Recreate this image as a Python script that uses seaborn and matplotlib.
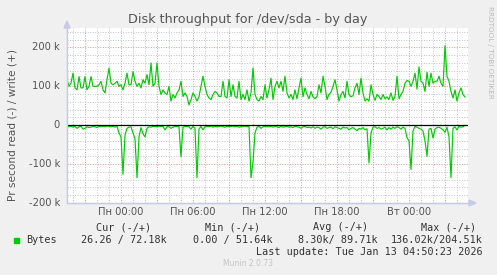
import matplotlib
matplotlib.use("Agg")
import matplotlib.pyplot as plt
import matplotlib.dates as mdates
import matplotlib.ticker as mticker
import seaborn as sns
import pandas as pd
import numpy as np

# ---- data (k bytes/s, 10-minute samples starting Sun 19:30) ----
start_time = "2026-01-11 19:30"
sample_step = "10min"

write_k = [117, 100, 108, 134, 96, 91, 125, 96, 96, 125, 91, 100, 125, 100, 100, 100, 104, 113, 91, 83,
           117, 147, 108, 104, 108, 113, 100, 104, 91, 108, 134, 104, 104, 138, 113, 100, 108, 96, 117, 108,
           130, 104, 160, 100, 108, 160, 100, 79, 91, 83, 79,
           100, 62, 79, 70, 83, 91, 113, 74, 83, 74, 52, 66, 83, 74, 62, 74, 100, 126, 100, 79,
           70, 66, 79, 87, 83, 74, 74, 113, 74, 70, 117, 74, 104, 74, 70, 113, 66, 79, 66, 91,
           62, 83, 147, 79, 66, 62, 74, 66, 104, 70,
           91, 121, 66, 100, 113, 96, 113, 87, 126, 83, 70, 79, 66, 91, 68, 96, 121, 73, 96, 79,
           68, 87, 73, 68, 74, 104, 83, 126, 100, 66, 79, 85, 100, 117, 91, 62, 79, 87, 70, 113,
           79, 73, 76, 96, 108, 79, 121, 83, 62, 68, 62,
           104, 79, 64, 79, 74, 66, 79, 68, 73, 66, 83, 64, 74, 126, 68, 79, 87, 108, 115, 113,
           100, 113, 134, 93, 150, 113, 108, 87, 136, 100, 134, 108, 113, 113, 126, 108, 100, 204.5, 126, 113,
           87, 70, 91, 62, 83, 96, 79, 72.2]

read_k = [3, 4, 3, 5, 3, 8, 4, 3, 10, 8, 4, 6, 5, 3, 4, 6, 3, 4, 3, 4,
          2, 3, 4, 3, 5, 3, 20, 30, 126, 25, 8, 5, 4, 20, 35, 135, 30, 6, 22, 30,
          8, 4, 5, 3, 3, 4, 2, 3, 3, 12, 4,
          4, 8, 5, 3, 3, 4, 81, 5, 3, 3, 4, 10, 3, 8, 135, 10, 3, 12, 4,
          3, 4, 2, 5, 3, 4, 3, 2, 4, 5, 3, 4, 3, 2, 4, 3, 5, 4, 3, 2, 4, 3,
          135, 95, 20, 5, 3, 8, 4, 3, 4,
          4, 3, 5, 3, 4, 6, 3, 5, 4, 3, 5, 4, 6, 3, 4, 5, 8, 4, 3, 6,
          5, 7, 4, 8, 5, 6, 10, 5, 4, 8, 6, 5, 9, 4, 6, 8, 10, 5, 7, 6,
          12, 8, 6, 10, 14, 8, 10, 6, 12, 9, 97,
          20, 5, 4, 8, 6, 10, 8, 5, 12, 6, 10, 5, 8, 4, 6, 10, 5, 8, 32, 40,
          114, 15, 3, 5, 8, 10, 15, 40, 80, 10, 8, 33, 10, 6, 5, 8, 12, 18, 5, 30,
          135, 8, 4, 12, 3, 5, 4, 0.026]

y_tick_values = [-200000, -100000, 0, 100000, 200000]
y_tick_labels = ["-200 k", "-100 k", "0", "100 k", "200 k"]
x_tick_times = ["2026-01-12 00:00", "2026-01-12 06:00", "2026-01-12 12:00",
                "2026-01-12 18:00", "2026-01-13 00:00"]
x_tick_labels = ["Пн 00:00", "Пн 06:00", "Пн 12:00", "Пн 18:00", "Вт 00:00"]

title = "Disk throughput for /dev/sda - by day"
ylabel = "Pr second read (-) / write (+)"
legend_header = ["Cur (-/+)", "Min (-/+)", "Avg (-/+)", "Max (-/+)"]
legend_values = ["26.26 / 72.18k", "0.00 / 51.64k", "8.30k/ 89.71k", "136.02k/204.51k"]
series_name = "Bytes"
last_update = "Last update: Tue Jan 13 04:50:23 2026"
munin_ver = "Munin 2.0.73"
side_text = "RRDTOOL / TOBI OETIKER"

# ---- build table ----
times = pd.date_range(start_time, periods=len(write_k), freq=sample_step)
df = pd.concat([
    pd.DataFrame({"time": times, "value": np.array(write_k) * 1000, "dir": "write"}),
    pd.DataFrame({"time": times, "value": -np.array(read_k) * 1000, "dir": "read"}),
])

sns.set_theme(style="white")
plt.rcParams["font.family"] = ["DejaVu Sans"]

W, H = 497, 275
fig = plt.figure(figsize=(W / 100, H / 100), dpi=100, facecolor="#F0F0F0")
L, R, T, B = 67, 468, 28, 203
ax = fig.add_axes([L / W, 1 - B / H, (R - L) / W, (B - T) / H])
ax.set_facecolor("white")

GREEN = "#00CC00"
sns.lineplot(data=df, x="time", y="value", hue="dir", palette={"write": GREEN, "read": GREEN},
             legend=False, linewidth=0.85, ax=ax, estimator=None)
ax.axhline(0, color="black", lw=0.9, zorder=3)

x0 = pd.Timestamp("2026-01-12 00:00")
ax.set_xlim(x0 - pd.Timedelta(hours=4.5), x0 + pd.Timedelta(hours=(R - 121) / 12))
ax.set_ylim(-200000, 250000)

# grid
ax.xaxis.set_major_locator(mdates.HourLocator(byhour=range(0, 24, 3)))
ax.xaxis.set_minor_locator(mdates.HourLocator())
ax.yaxis.set_major_locator(mticker.FixedLocator(y_tick_values))
ax.yaxis.set_minor_locator(mticker.MultipleLocator(20000))
ax.grid(which="minor", color="#C2C2C2", lw=0.7, ls=(0, (1, 1.6)))
ax.grid(which="major", color="#E49494", lw=0.7, ls=(0, (1, 1.6)))
ax.set_axisbelow(True)
ax.tick_params(which="both", length=0, labelbottom=False, labelleft=False)

for s in ["top", "right"]:
    ax.spines[s].set_visible(False)
for s in ["left", "bottom"]:
    ax.spines[s].set_color("#C8C8E8")
    ax.spines[s].set_linewidth(0.9)
ax.set_xlabel("")
ax.set_ylabel("")

TXT = "#555555"
def fx(px):
    return px / W
def fy(py):
    return 1 - py / H

# arrows on axes
fig.add_artist(plt.Line2D([fx(L), fx(L)], [fy(B), fy(24)], color="#C8C8E8", lw=0.9))
fig.add_artist(plt.Polygon([[fx(L - 3), fy(28)], [fx(L + 3), fy(28)], [fx(L), fy(21)]],
                           closed=True, color="#C8C8E8", transform=fig.transFigure))
fig.add_artist(plt.Line2D([fx(L), fx(472)], [fy(B), fy(B)], color="#C8C8E8", lw=0.9))
fig.add_artist(plt.Polygon([[fx(469), fy(B - 3)], [fx(469), fy(B + 3)], [fx(476), fy(B)]],
                           closed=True, color="#C8C8E8", transform=fig.transFigure))

# tick labels
for v, lab in zip(y_tick_values, y_tick_labels):
    ypx = B - (v + 200000) / 450000 * (B - T)
    fig.text(fx(60), fy(ypx), lab, ha="right", va="center", fontsize=7.2, color=TXT)
for t, lab in zip(x_tick_times, x_tick_labels):
    xpx = 121 + (pd.Timestamp(t) - x0).total_seconds() / 3600 * 12
    fig.text(fx(xpx), fy(212), lab, ha="center", va="center", fontsize=7.2, color=TXT)

fig.text(fx(248), fy(19), title, ha="center", va="center", fontsize=9.2, color=TXT)
fig.text(fx(13), fy(125), ylabel, ha="center", va="center", rotation=90, fontsize=7.6, color=TXT)
fig.text(fx(490), fy(52), side_text, ha="center", va="center", rotation=270,
         fontsize=5.2, color="#BBBBBB")

MONO = dict(family="DejaVu Sans Mono", fontsize=7.3, color="#333333")
head_x = [124, 233, 341, 449]
for x, h in zip(head_x, legend_header):
    fig.text(fx(x), fy(227), h, ha="center", va="center", **MONO)
fig.add_artist(plt.Rectangle((fx(14), fy(243)), 5 / W, 5 / H, color=GREEN,
                             transform=fig.transFigure))
fig.text(fx(26), fy(240), series_name, ha="left", va="center", **MONO)
val_right = [167, 273, 378, 483]
for x, v in zip(val_right, legend_values):
    fig.text(fx(x), fy(240), v, ha="right", va="center", **MONO)
fig.text(fx(483), fy(252), last_update, ha="right", va="center", **MONO)
fig.text(fx(248), fy(264), munin_ver, ha="center", va="center", fontsize=5.5, color="#C4C4C4")

fig.savefig("out.png", dpi=100, facecolor=fig.get_facecolor())
